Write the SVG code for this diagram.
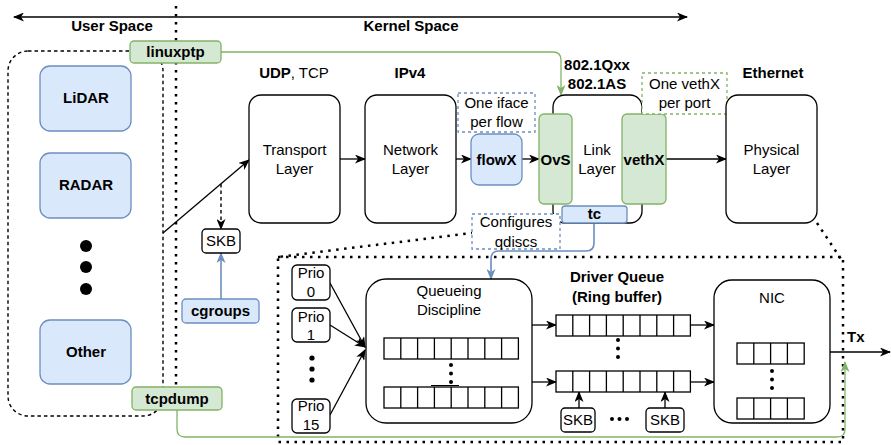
<svg xmlns="http://www.w3.org/2000/svg" xmlns:xlink="http://www.w3.org/1999/xlink" width="891" height="445" viewBox="0 0 891 445">
<style>
.t{font-family:"Liberation Sans",Arial,sans-serif;font-size:15px;text-anchor:middle;fill:#000}
.b{font-weight:bold}
.box{fill:#fff;stroke:#000;stroke-width:1.3}
.blue{fill:#dae8fc;stroke:#6c8ebf;stroke-width:1.3}
.green{fill:#d5e8d4;stroke:#82b366;stroke-width:1.3}
.dblue{fill:#fff;stroke:#6c8ebf;stroke-width:1.3;stroke-dasharray:3 3}
.dgreen{fill:#fff;stroke:#82b366;stroke-width:1.3;stroke-dasharray:3 3}
.edge{fill:none;stroke:#000;stroke-width:1.3}
.eblue{fill:none;stroke:#6c8ebf;stroke-width:1.6}
.egreen{fill:none;stroke:#82b366;stroke-width:1.3}
.dot{fill:none;stroke:#000;stroke-width:2.5;stroke-dasharray:2.5 5.5}
.dash{fill:none;stroke:#000;stroke-width:1.4;stroke-dasharray:3.5 3}
.cell{fill:#fff;stroke:#000;stroke-width:1.3}
</style>
<defs>
<marker id="ah" markerWidth="11" markerHeight="9" refX="10" refY="4.5" orient="auto-start-reverse" markerUnits="userSpaceOnUse"><path d="M0,0L11,4.5L0,9L3,4.5z" fill="#000"/></marker>
<marker id="ahb" markerWidth="11" markerHeight="9" refX="10" refY="4.5" orient="auto" markerUnits="userSpaceOnUse"><path d="M0,0L11,4.5L0,9L3,4.5z" fill="#6c8ebf"/></marker>
<marker id="ahg" markerWidth="11" markerHeight="9" refX="10" refY="4.5" orient="auto" markerUnits="userSpaceOnUse"><path d="M0,0L11,4.5L0,9L3,4.5z" fill="#82b366"/></marker>
<g id="q8" class="cell"><rect width="134.4" height="21"/><path d="M16.8,0v21M33.6,0v21M50.4,0v21M67.2,0v21M84,0v21M100.8,0v21M117.6,0v21"/></g>
<g id="q4" class="cell"><rect width="67.2" height="21"/><path d="M16.8,0v21M33.6,0v21M50.4,0v21"/></g>
</defs>

<g id="background">
<path class="dot" d="M176,6V410"/>
<rect class="dash" x="8" y="51" width="155" height="365" rx="20"/>
<rect class="dot" x="278" y="257" width="565" height="185"/>
<path class="dot" d="M553,223L278,257"/>
<path class="dot" d="M817,223L843,262"/>
<text class="t b" x="112" y="31">User Space</text>
<text class="t b" x="411" y="31">Kernel Space</text>
</g>

<g id="connectors">
<path class="edge" d="M14,17H687" marker-start="url(#ah)" marker-end="url(#ah)"/>
<path class="edge" d="M163,233L249,160" marker-end="url(#ah)"/>
<path class="dash" d="M221,184V229" marker-end="url(#ah)"/>
<path class="eblue" d="M221,299V253" marker-end="url(#ahb)"/>
<path class="edge" d="M340,159H365" marker-end="url(#ah)"/>
<path class="edge" d="M456,159H471" marker-end="url(#ah)"/>
<path class="edge" d="M522,159H539" marker-end="url(#ah)"/>
<path class="edge" d="M666,159H726" marker-end="url(#ah)"/>
<path class="egreen" d="M221,52H553Q561,52 561,60V95" marker-end="url(#ahg)"/>
<path class="eblue" d="M594,223V243Q594,251 586,251H499Q491,251 491,259V279" marker-end="url(#ahb)"/>
<path class="egreen" d="M177,410V429Q177,437 185,437H837Q845,437 845,429V362" marker-end="url(#ahg)"/>
<path class="edge" d="M330,283L365,347" marker-end="url(#ah)"/>
<path class="edge" d="M330,325L365,347" marker-end="url(#ah)"/>
<path class="edge" d="M330,415L365,350" marker-end="url(#ah)"/>
<path class="edge" d="M532,325H556" marker-end="url(#ah)"/>
<path class="edge" d="M532,382H556" marker-end="url(#ah)"/>
<path class="edge" d="M690,325H714" marker-end="url(#ah)"/>
<path class="edge" d="M690,382H714" marker-end="url(#ah)"/>
<path class="edge" d="M579,408V392" marker-end="url(#ah)"/>
<path class="edge" d="M665,408V392" marker-end="url(#ah)"/>
<path class="edge" d="M830,352H890" marker-end="url(#ah)"/>
</g>

<g id="lidar"><rect class="blue" x="40" y="66" width="91" height="65" rx="10"/><text class="t b" x="86" y="103">LiDAR</text></g>
<g id="radar"><rect class="blue" x="40" y="153" width="91" height="65" rx="10"/><text class="t b" x="86" y="190">RADAR</text></g>
<g id="user-dots"><circle cx="86" cy="246" r="6"/><circle cx="86" cy="267" r="6"/><circle cx="86" cy="289" r="6"/></g>
<g id="other"><rect class="blue" x="40" y="320" width="91" height="64" rx="10"/><text class="t b" x="86" y="357">Other</text></g>
<g id="linuxptp"><rect class="green" x="130" y="41" width="91" height="22" rx="4"/><text class="t b" x="175.5" y="57">linuxptp</text></g>
<g id="tcpdump"><rect class="green" x="132" y="387" width="90" height="23" rx="4"/><text class="t b" x="177" y="404">tcpdump</text></g>
<g id="skb-top"><rect class="box" x="202" y="229" width="38" height="24" rx="4"/><text class="t" x="221" y="246">SKB</text></g>
<g id="cgroups"><rect class="blue" x="182" y="299" width="77" height="24" rx="4"/><text class="t b" x="220.5" y="316">cgroups</text></g>

<g id="transport"><text class="t" x="294" y="78"><tspan class="b">UDP</tspan>, TCP</text><rect class="box" x="249" y="95" width="91" height="128" rx="12"/><text class="t" x="294.5" y="155">Transport</text><text class="t" x="294.5" y="174">Layer</text></g>
<g id="network"><text class="t b" x="410" y="78">IPv4</text><rect class="box" x="365" y="95" width="91" height="128" rx="12"/><text class="t" x="410.5" y="155">Network</text><text class="t" x="410.5" y="174">Layer</text></g>
<g id="iface-note"><rect class="dblue" x="458" y="93" width="77" height="39"/><text class="t" x="496.5" y="108">One iface</text><text class="t" x="496.5" y="127">per flow</text></g>
<g id="flowx"><rect class="blue" x="471" y="134" width="51" height="51" rx="8"/><text class="t b" x="496.5" y="165">flowX</text></g>
<g id="link"><text class="t b" x="597" y="70">802.1Qxx</text><text class="t b" x="597" y="89">802.1AS</text><rect class="box" x="553" y="95" width="89" height="128" rx="12"/><text class="t" x="597" y="155">Link</text><text class="t" x="597" y="174">Layer</text></g>
<g id="ovs"><rect class="green" x="539" y="114" width="33" height="90" rx="5"/><text class="t b" x="555.5" y="165">OvS</text></g>
<g id="vethx"><rect class="green" x="622" y="114" width="44" height="90" rx="5"/><text class="t b" x="644" y="165">vethX</text></g>
<g id="tc"><rect class="blue" x="562" y="206" width="65" height="17" rx="3"/><text class="t b" x="594.5" y="219">tc</text></g>
<g id="veth-note"><rect class="dgreen" x="642" y="73" width="85" height="41"/><text class="t" x="684.5" y="89">One vethX</text><text class="t" x="684.5" y="108">per port</text></g>
<g id="physical"><text class="t b" x="773" y="78">Ethernet</text><rect class="box" x="726" y="95" width="91" height="128" rx="12"/><text class="t" x="771.5" y="155">Physical</text><text class="t" x="771.5" y="174">Layer</text></g>
<g id="configures"><rect class="dblue" x="472" y="214" width="88" height="35"/><text class="t" x="516" y="227">Configures</text><text class="t" x="516" y="247">qdiscs</text></g>

<g id="prio0"><rect class="box" x="292" y="265" width="38" height="35" rx="5"/><text class="t" x="311" y="278">Prio</text><text class="t" x="311" y="297">0</text></g>
<g id="prio1"><rect class="box" x="292" y="308" width="38" height="34" rx="5"/><text class="t" x="311" y="322">Prio</text><text class="t" x="311" y="340">1</text></g>
<g id="prio-dots"><circle cx="312" cy="358" r="2.6"/><circle cx="312" cy="369" r="2.6"/><circle cx="312" cy="380" r="2.6"/></g>
<g id="prio15"><rect class="box" x="292" y="399" width="38" height="34" rx="5"/><text class="t" x="311" y="411">Prio</text><text class="t" x="311" y="430">15</text></g>

<g id="qdisc"><rect class="box" x="366" y="279" width="166" height="144" rx="20"/><text class="t" x="449" y="296">Queueing</text><text class="t" x="449" y="315">Discipline</text>
<use xlink:href="#q8" x="384" y="338"/><use xlink:href="#q8" x="384" y="387"/>
<circle cx="451" cy="365" r="2"/><circle cx="451" cy="373.5" r="2"/><circle cx="451" cy="382" r="2"/>
<path d="M431,385.5H459" stroke="#000" stroke-width="1"/></g>

<g id="driver-queue"><text class="t b" x="617" y="282">Driver Queue</text><text class="t b" x="617" y="302">(Ring buffer)</text>
<use xlink:href="#q8" x="556" y="315"/><use xlink:href="#q8" x="556" y="371"/>
<circle cx="618" cy="340" r="2"/><circle cx="618" cy="348.5" r="2"/><circle cx="618" cy="357" r="2"/></g>
<g id="skb1"><rect class="box" x="561" y="408" width="34" height="24" rx="4"/><text class="t" x="578" y="425">SKB</text></g>
<g id="skb-dots"><circle cx="612" cy="419" r="2"/><circle cx="619.5" cy="419" r="2"/><circle cx="627" cy="419" r="2"/></g>
<g id="skb2"><rect class="box" x="646" y="408" width="38" height="24" rx="4"/><text class="t" x="665" y="425">SKB</text></g>

<g id="nic"><rect class="box" x="714" y="280" width="116" height="143" rx="18"/><text class="t" x="772" y="303">NIC</text>
<use xlink:href="#q4" x="737" y="343"/><use xlink:href="#q4" x="737" y="398"/>
<circle cx="772" cy="371" r="2"/><circle cx="772" cy="379.5" r="2"/><circle cx="772" cy="388" r="2"/></g>
<g id="tx"><text class="t b" x="847" y="342" style="text-anchor:start">Tx</text></g>
</svg>
